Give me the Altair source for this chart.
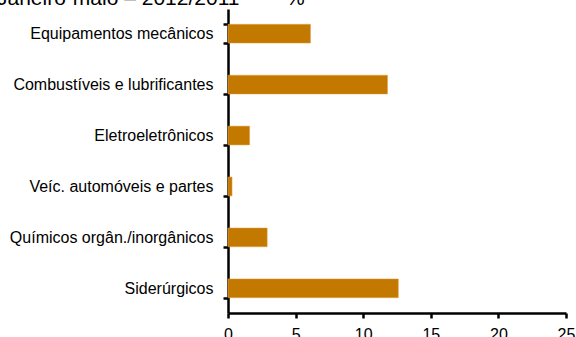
import altair as alt
import pandas as pd

categories = [
    "Equipamentos mecânicos",
    "Combustíveis e lubrificantes",
    "Eletroeletrônicos",
    "Veíc. automóveis e partes",
    "Químicos orgân./inorgânicos",
    "Siderúrgicos",
]
values = [6.1, 11.8, 1.6, 0.3, 2.9, 12.6]
x_ticks = [0, 5, 10, 15, 20, 25]

df = pd.DataFrame({"cat": categories, "val": values})

FONT = "Liberation Sans"

chart = (
    alt.Chart(df)
    .mark_bar(color="#C37800", stroke="#E5A24A", strokeWidth=0.5)
    .encode(
        x=alt.X(
            "val:Q",
            scale=alt.Scale(domain=[0, 25], nice=False),
            axis=alt.Axis(
                values=x_ticks,
                title=None,
                grid=False,
                domainColor="black",
                domainWidth=2.5,
                tickColor="black",
                tickWidth=2.5,
                tickSize=5,
                labelFontSize=16,
                labelFont=FONT,
                labelColor="black",
                labelPadding=8,
                labelFlush=False,
            ),
        ),
        y=alt.Y(
            "cat:N",
            sort=categories,
            scale=alt.Scale(paddingInner=0.63, paddingOuter=0.3),
            axis=alt.Axis(
                title=None,
                grid=False,
                domainColor="black",
                domainWidth=2.5,
                tickColor="black",
                tickWidth=2.5,
                tickSize=5,
                tickBand="extent",
                labelFontSize=16,
                labelFont=FONT,
                labelColor="black",
                labelPadding=10,
                labelLimit=300,
            ),
        ),
    )
    .properties(
        width=338,
        height=304,
        autosize=alt.AutoSizeParams(type="none"),
        padding={"left": 228, "top": 9, "right": 10, "bottom": 24},
        title=alt.TitleParams(
            text="Janeiro-maio – 2012/2011" + "\u00a0" * 8 + "%",
            anchor="start",
            frame="group",
            dx=-231,
            dy=8,
            offset=0,
            fontSize=21,
            font=FONT,
            fontWeight="normal",
            color="black",
        ),
    )
    .configure_view(stroke=None)
)

chart.save("out.html", embed_options={"renderer": "svg", "actions": False})
